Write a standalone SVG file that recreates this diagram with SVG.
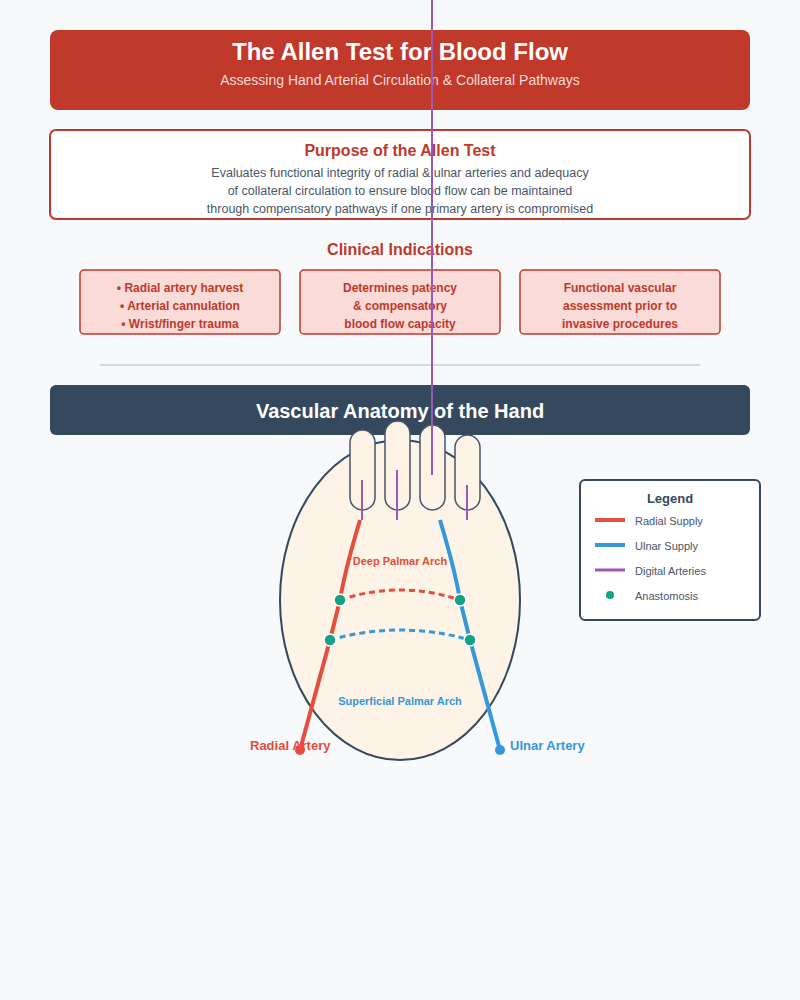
<svg xmlns="http://www.w3.org/2000/svg" width="800" height="1000" viewBox="0 0 800 1000">
<style>
text{font-family:"Liberation Sans",Arial,sans-serif}
.ind{fill:#fadbd8;stroke:#c0392b;stroke-width:1.5}
.indt{fill:#c0392b;font-size:12px;font-weight:bold;text-anchor:middle}
.fin{fill:#fdf3e6;stroke:#4a5568;stroke-width:1.5}
.dig{stroke:#9b59b6;stroke-width:2}
.an{fill:#16a085;stroke:#fff;stroke-width:1.5}
.lg{fill:#4a5568;font-size:11px}
</style>
<rect width="800" height="1000" fill="#f7f9fb"/>
<g id="title">
<rect x="50" y="30" width="700" height="80" rx="8" fill="#c0392b"/>
<text x="400" y="60" font-size="24" font-weight="bold" fill="#fff" text-anchor="middle">The Allen Test for Blood Flow</text>
<text x="400" y="85" font-size="14" fill="#fadbd8" text-anchor="middle">Assessing Hand Arterial Circulation &amp; Collateral Pathways</text>
</g>
<g id="purpose">
<rect x="50" y="130" width="700" height="89" rx="6" fill="#fff" stroke="#c0392b" stroke-width="2"/>
<text x="400" y="156" font-size="16" font-weight="bold" fill="#c0392b" text-anchor="middle">Purpose of the Allen Test</text>
<text x="400" y="177" font-size="12.5" fill="#4a5568" text-anchor="middle">Evaluates functional integrity of radial &amp; ulnar arteries and adequacy</text>
<text x="400" y="195" font-size="12.5" fill="#4a5568" text-anchor="middle">of collateral circulation to ensure blood flow can be maintained</text>
<text x="400" y="213" font-size="12.5" fill="#4a5568" text-anchor="middle">through compensatory pathways if one primary artery is compromised</text>
</g>
<text x="400" y="255" font-size="16" font-weight="bold" fill="#c0392b" text-anchor="middle">Clinical Indications</text>
<g id="ind1"><rect class="ind" x="80" y="270" width="200" height="64" rx="4"/>
<text class="indt" x="180" y="292">• Radial artery harvest</text><text class="indt" x="180" y="310">• Arterial cannulation</text><text class="indt" x="180" y="328">• Wrist/finger trauma</text></g>
<g id="ind2"><rect class="ind" x="300" y="270" width="200" height="64" rx="4"/>
<text class="indt" x="400" y="292">Determines patency</text><text class="indt" x="400" y="310">&amp; compensatory</text><text class="indt" x="400" y="328">blood flow capacity</text></g>
<g id="ind3"><rect class="ind" x="520" y="270" width="200" height="64" rx="4"/>
<text class="indt" x="620" y="292">Functional vascular</text><text class="indt" x="620" y="310">assessment prior to</text><text class="indt" x="620" y="328">invasive procedures</text></g>
<line x1="100" y1="365" x2="700" y2="365" stroke="#d5d8dc" stroke-width="2"/>
<g id="anatomy-header"><rect x="50" y="385" width="700" height="50" rx="6" fill="#34495e"/>
<text x="400" y="418" font-size="20" font-weight="bold" fill="#fff" text-anchor="middle">Vascular Anatomy of the Hand</text></g>
<g id="hand">
<ellipse cx="400" cy="600" rx="120" ry="160" fill="#fdf3e6" stroke="#34495e" stroke-width="2"/>
<rect class="fin" x="350" y="430" width="25" height="80" rx="12.5"/>
<rect class="fin" x="385" y="421" width="25" height="89" rx="12.5"/>
<rect class="fin" x="420" y="425" width="25" height="85" rx="12.5"/>
<rect class="fin" x="455" y="435" width="25" height="75" rx="12.5"/>
</g>
<g id="connectors" fill="none">
<line class="dig" x1="362" y1="480" x2="362" y2="520"/>
<line class="dig" x1="397" y1="470" x2="397" y2="520"/>
<line class="dig" x1="432" y1="0" x2="432" y2="475"/>
<line class="dig" x1="467" y1="485" x2="467" y2="520"/>
<path d="M360,520 Q345,570 340,600 L330,640 L300,750" stroke="#e74c3c" stroke-width="4"/>
<path d="M440,520 Q455,570 460,600 L470,640 L500,750" stroke="#3498db" stroke-width="4"/>
<path d="M340,600 Q400,580 460,600" stroke="#e74c3c" stroke-width="3" stroke-dasharray="6,4"/>
<path d="M330,640 Q400,620 470,640" stroke="#3498db" stroke-width="3" stroke-dasharray="6,4"/>
</g>
<g id="anastomoses">
<circle class="an" cx="340" cy="600" r="6"/><circle class="an" cx="460" cy="600" r="6"/>
<circle class="an" cx="330" cy="640" r="6"/><circle class="an" cx="470" cy="640" r="6"/>
<circle cx="300" cy="750" r="5" fill="#e74c3c"/><circle cx="500" cy="750" r="5" fill="#3498db"/>
</g>
<text x="400" y="565" font-size="11" font-weight="bold" fill="#e74c3c" text-anchor="middle">Deep Palmar Arch</text>
<text x="400" y="705" font-size="11" font-weight="bold" fill="#3498db" text-anchor="middle">Superficial Palmar Arch</text>
<text x="250" y="750" font-size="13" font-weight="bold" fill="#e74c3c">Radial Artery</text>
<text x="510" y="750" font-size="13" font-weight="bold" fill="#3498db">Ulnar Artery</text>
<g id="legend">
<rect x="580" y="480" width="180" height="140" rx="5" fill="#fff" stroke="#34495e" stroke-width="2"/>
<text x="670" y="503" font-size="13" font-weight="bold" fill="#34495e" text-anchor="middle">Legend</text>
<line x1="595" y1="520" x2="625" y2="520" stroke="#e74c3c" stroke-width="4"/><text class="lg" x="635" y="525">Radial Supply</text>
<line x1="595" y1="545" x2="625" y2="545" stroke="#3498db" stroke-width="4"/><text class="lg" x="635" y="550">Ulnar Supply</text>
<line x1="595" y1="570" x2="625" y2="570" stroke="#9b59b6" stroke-width="3"/><text class="lg" x="635" y="575">Digital Arteries</text>
<circle cx="610" cy="595" r="4" fill="#16a085"/><text class="lg" x="635" y="600">Anastomosis</text>
</g>
</svg>
